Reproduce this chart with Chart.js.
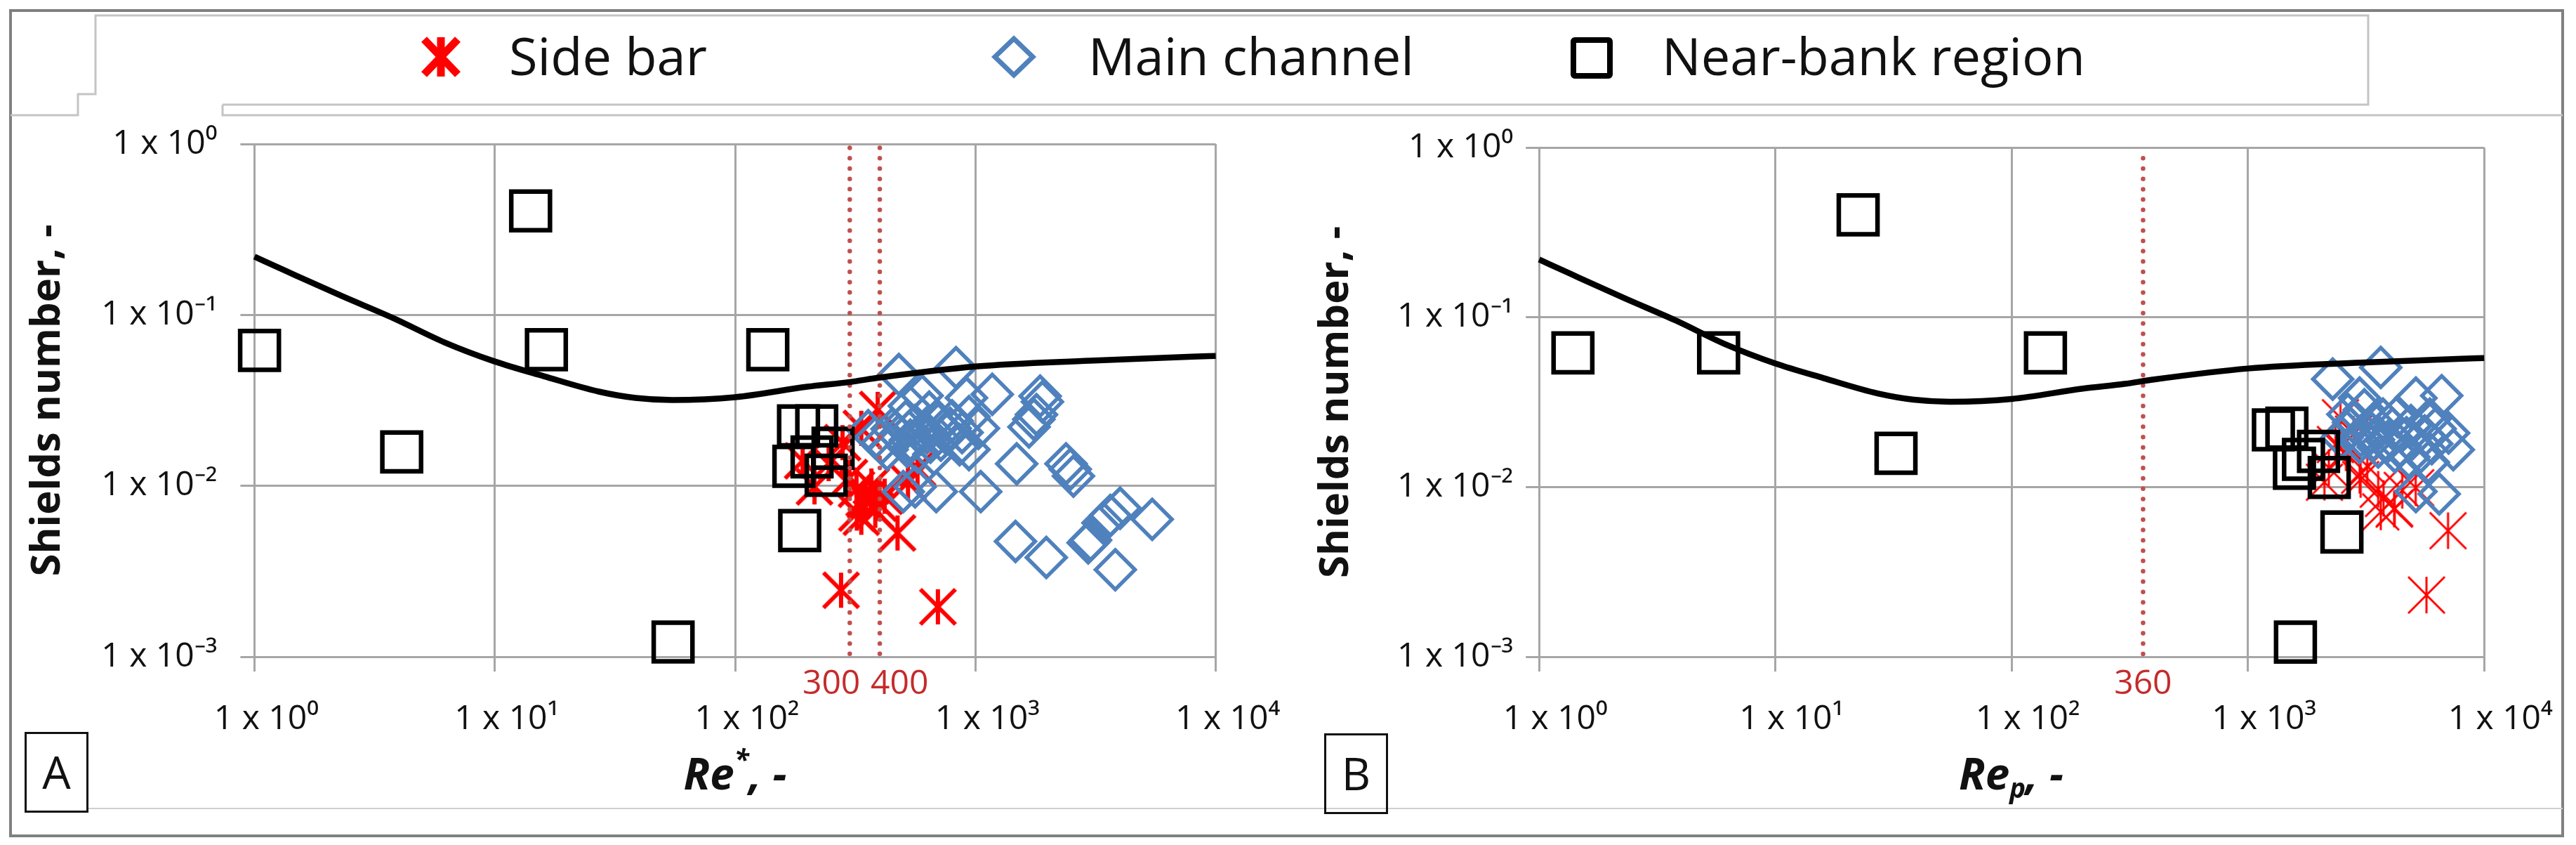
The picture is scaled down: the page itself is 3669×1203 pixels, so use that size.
<!DOCTYPE html>
<html>
<head>
<meta charset="utf-8">
<script src="https://cdn.jsdelivr.net/npm/chart.js@4/dist/chart.umd.min.js"></script>
<style>
  html, body { margin:0; padding:0; background:#fff; }
  #page { position:relative; width:3669px; height:1203px; overflow:hidden; background:#fff; font-family:'Open Sans', sans-serif; color:#111; }
  canvas { position:absolute; top:0; }
  .txt { position:absolute; white-space:nowrap; line-height:1; }
  .box { position:absolute; border:3px solid #111; box-sizing:border-box; }
</style>
</head>
<body>
<div id="page">
  <svg width="3669" height="1203" style="position:absolute;left:0;top:0">
    <rect x="15" y="15" width="3635" height="1175" fill="none" stroke="#808080" stroke-width="4"/>
    <polyline points="317,149 3373,149 3373,22 136,22 136,134 111,134 111,164 15,164" fill="none" stroke="#c4c4c4" stroke-width="3"/>
    <polyline points="317,149 317,164 3650,164" fill="none" stroke="#c4c4c4" stroke-width="3"/>
    <line x1="126" y1="1151" x2="3650" y2="1151" stroke="#cfcfcf" stroke-width="2"/>
    <!-- legend markers -->
    <g stroke="#ff0000" stroke-width="11" stroke-linecap="butt">
      <line x1="604" y1="56" x2="652" y2="106"/>
      <line x1="652" y1="56" x2="604" y2="106"/>
      <line x1="628" y1="53" x2="628" y2="109"/>
    </g>
    <polygon points="1444,55 1471,81 1444,107 1417,81" fill="none" stroke="#4F81BD" stroke-width="7"/>
    <rect x="2241" y="57" width="52" height="51" fill="none" stroke="#000" stroke-width="8" rx="2"/>
  </svg>
  <div class="txt" style="left:725px; top:42px; font-size:74px;">Side bar</div>
  <div class="txt" style="left:1550px; top:42px; font-size:74px;">Main channel</div>
  <div class="txt" style="left:2367px; top:42px; font-size:74px;">Near-bank region</div>

  <canvas id="chartA" width="1835" height="1203" style="left:0px"></canvas>
  <canvas id="chartB" width="1834" height="1203" style="left:1835px"></canvas>

  <div class="txt" style="left:362px; width:1370px; text-align:center; top:1069px; font-size:62px; font-weight:700; font-style:italic;">Re<span style="font-size:0.62em; position:relative; top:-0.75em;">*</span>, -</div>
  <div class="txt" style="left:2191px; width:1347px; text-align:center; top:1069px; font-size:62px; font-weight:700; font-style:italic;">Re<span style="font-size:0.62em; position:relative; top:0.3em;">p</span>, -</div>

  <div class="box" style="left:35px; top:1042px; width:91px; height:115px;"></div>
  <div class="txt" style="left:35px; width:91px; text-align:center; top:1067px; font-size:64px;">A</div>
  <div class="box" style="left:1886px; top:1044px; width:91px; height:115px;"></div>
  <div class="txt" style="left:1886px; width:91px; text-align:center; top:1069px; font-size:64px;">B</div>
</div>
<script>
// ---------------- DATA ----------------
const xTickValues = [1, 10, 100, 1000, 10000];
const xTickLabels = ['1 x 10\u2070', '1 x 10\u00B9', '1 x 10\u00B2', '1 x 10\u00B3', '1 x 10\u2074'];
const yTickValues = [0.001, 0.01, 0.1, 1];
const yTickLabels = ['1 x 10\u207B\u00B3', '1 x 10\u207B\u00B2', '1 x 10\u207B\u00B9', '1 x 10\u2070'];

// Shields threshold curve (same in both panels)
const shieldsRe    = [1, 1.36, 2.31, 3.78, 6.19, 10, 16, 27.1, 38.5, 54.8, 100, 200, 300, 400, 1000, 3000, 8000, 10000];
const shieldsTheta = [0.219, 0.180, 0.129, 0.0958, 0.069, 0.0534, 0.0438, 0.0356, 0.0327, 0.0318, 0.033, 0.038, 0.0405, 0.043, 0.0499, 0.054, 0.057, 0.0575];

// Panel A: Re*
const sideBarReStar   = [392, 276, 474, 698, 350, 320, 383, 299, 335, 419, 335, 280, 245, 214, 524, 574, 191, 344, 396, 321, 369];
const sideBarThetaA   = [0.028, 0.00245, 0.0053, 0.00196, 0.00817, 0.00955, 0.00719, 0.0112, 0.00655, 0.00869, 0.0217, 0.0179, 0.0135, 0.00986, 0.0105, 0.0127, 0.014, 0.00845, 0.0079, 0.00693, 0.00998];

const mainReStar = [480, 830, 1175, 918, 600, 531, 642, 940, 1029, 383, 410, 480, 536, 628, 718, 785, 859, 940, 574, 672, 513, 429, 501, 561, 687, 1052, 358,
                    450, 560, 700, 760, 650, 590, 520, 800, 880,
                    1859, 1900, 1795, 1750, 1671, 1485, 2383, 2480, 2557, 1468, 1972, 2946, 3013, 3397, 3641, 4000, 5440, 3819];
const mainThetaA = [0.0448, 0.0492, 0.0343, 0.0327, 0.0337, 0.0293, 0.0270, 0.0254, 0.0217, 0.0191, 0.0179, 0.0197, 0.0185, 0.0204, 0.0185, 0.0217, 0.0174, 0.0163, 0.0158, 0.0153, 0.0238, 0.0163, 0.00925, 0.00986, 0.00925, 0.00925, 0.0210,
                    0.0215, 0.0225, 0.0230, 0.0200, 0.0180, 0.0200, 0.0170, 0.0240, 0.0205,
                    0.0335, 0.0310, 0.0261, 0.0245, 0.0221, 0.01346, 0.01346, 0.0125, 0.0114, 0.00473, 0.00381, 0.00464, 0.00481, 0.00607, 0.0067, 0.0074, 0.00637, 0.00323];

const nearBankReStar = [14.1, 1.05, 16.4, 136.8, 4.10, 55.2, 183.6, 218.6, 175.6, 209, 255.7, 239.3, 185.7];
const nearBankThetaA = [0.406, 0.062, 0.0626, 0.0626, 0.0158, 0.00122, 0.0224, 0.0224, 0.0130, 0.01476, 0.0166, 0.01153, 0.00547];

const refLinesA = [300, 400];

// Panel B: Re_p
const sideBarRep    = [5700, 7030, 3750, 4160, 3650, 3000, 2465, 2108, 5130, 4500, 2600, 3200, 2346, 2970, 3560, 4180, 2200, 2800];
const sideBarThetaB = [0.00231, 0.00553, 0.00857, 0.00741, 0.00714, 0.01107, 0.0256, 0.01067, 0.0099, 0.00955, 0.0159, 0.0133, 0.0178, 0.01172, 0.0097, 0.0075, 0.013, 0.0205];

const mainRep    = [2285, 3650, 5140, 6610, 2970, 3110, 7070, 7400, 5890, 6450, 5140, 2710, 3330, 4090, 4690, 3730, 2970, 5380, 4190, 3560, 2650,
                    3000, 3400, 3900, 4400, 4900, 5600, 6000, 2500, 2800, 3500, 4300, 6200, 4800, 5800];
const mainThetaB = [0.0432, 0.0506, 0.0334, 0.0345, 0.0334, 0.0285, 0.0208, 0.0166, 0.0251, 0.0091, 0.0094, 0.0221, 0.0208, 0.0221, 0.0195, 0.0251, 0.0183, 0.0161, 0.0161, 0.0172, 0.0268,
                    0.0200, 0.0190, 0.0185, 0.0175, 0.0230, 0.0200, 0.0180, 0.0195, 0.0240, 0.0230, 0.0260, 0.0220, 0.0150, 0.0140];

const nearBankRep    = [22.4, 1.39, 5.75, 139, 32.4, 1589, 1282, 1462, 1574, 1719, 1990, 2210, 2500];
const nearBankThetaB = [0.401, 0.0617, 0.0617, 0.0617, 0.0158, 0.00122, 0.0217, 0.0222, 0.0129, 0.01455, 0.0162, 0.01138, 0.00543];

const refLinesB = [360];

// ---------------- STYLE / BUILD ----------------
const FONT = "'Open Sans', sans-serif";
const GRID = '#A6A6A6';
const TEXT = '#111111';

function pts(xs, ys) { return xs.map((x, i) => ({ x: x, y: ys[i] })); }

function makeStar(size, lw, color) {
  const pad = Math.ceil(lw);
  const c = document.createElement('canvas');
  c.width = c.height = size + 2 * pad;
  const g = c.getContext('2d');
  g.strokeStyle = color; g.lineWidth = lw; g.lineCap = 'butt';
  const a = pad, b = pad + size, m = pad + size / 2;
  g.beginPath();
  g.moveTo(a, a); g.lineTo(b, b);
  g.moveTo(b, a); g.lineTo(a, b);
  g.moveTo(m, a); g.lineTo(m, b);
  g.stroke();
  return c;
}

const refLabelPlugin = {
  id: 'refLabels',
  afterDatasetsDraw(chart, args, opts) {
    const ctx = chart.ctx, xs = chart.scales.x;
    ctx.save();
    ctx.font = '48px ' + FONT;
    ctx.fillStyle = '#C42B2B';
    ctx.textBaseline = 'middle';
    opts.values.forEach((v, i) => {
      const st = opts.styles[i];
      ctx.textAlign = st.align;
      ctx.fillText(String(v), xs.getPixelForValue(v) + st.dx, opts.y);
    });
    ctx.restore();
  }
};

function buildChart(id, p) {
  const datasets = [
    { label: 'Shields curve', data: pts(shieldsRe, shieldsTheta), showLine: true, borderColor: '#000', borderWidth: 8.5,
      pointRadius: 0, cubicInterpolationMode: 'monotone', order: 0, clip: false },
    { label: 'Near-bank region', data: p.near, pointStyle: 'rect', pointRadius: 39, borderWidth: 6.5,
      borderColor: '#000', backgroundColor: 'rgba(0,0,0,0)', order: 1, clip: false },
    { label: 'Main channel', data: p.main, pointStyle: 'rectRot', pointRadius: 28, borderWidth: 5.5,
      borderColor: '#4F81BD', backgroundColor: 'rgba(0,0,0,0)', order: 2, clip: false },
    { label: 'Side bar', data: p.side, pointStyle: p.star, pointRadius: 28, borderColor: '#FF0000',
      backgroundColor: '#FF0000', order: 3, clip: false }
  ];
  p.refLines.forEach((v, i) => {
    datasets.push({ label: 'ref' + i, data: [{ x: v, y: 0.00104 }, { x: v, y: 0.96 }], showLine: true,
      borderColor: '#C0504D', borderWidth: 6.5, borderDash: [0, 14.7], borderCapStyle: 'round',
      pointRadius: 0, order: 0.5, clip: false });
  });
  return new Chart(document.getElementById(id), {
    type: 'scatter',
    data: { datasets },
    plugins: [refLabelPlugin],
    options: {
      responsive: false, animation: false, devicePixelRatio: 1, events: [],
      layout: { padding: { left: 0, top: p.top, right: p.padRight, bottom: 1203 - 935 - 150 } },
      plugins: {
        legend: { display: false }, tooltip: { enabled: false },
        refLabels: { values: p.refLines, styles: p.refStyles, y: 974 }
      },
      scales: {
        x: {
          type: 'logarithmic', position: 'bottom', min: 1, max: 10000,
          afterBuildTicks: s => { s.ticks = xTickValues.map(v => ({ value: v })); },
          ticks: { callback: (v, i) => xTickLabels[i], font: { family: FONT, size: 48 }, color: TEXT,
                   padding: 40, labelOffset: p.xLabelOffset, maxRotation: 0, autoSkip: false },
          grid: { color: GRID, lineWidth: 3, tickLength: 21 },
          border: { color: GRID, width: 3 },
          afterFit: s => { s.height = 150; s.paddingLeft = 0; s.paddingRight = 0; }
        },
        y: {
          type: 'logarithmic', position: 'left', min: 0.001, max: 1,
          afterBuildTicks: s => { s.ticks = yTickValues.map(v => ({ value: v })); },
          ticks: { callback: (v, i) => yTickLabels[i], font: { family: FONT, size: 48 }, color: TEXT,
                   padding: p.yPad, autoSkip: false },
          grid: { color: GRID, lineWidth: 3, tickLength: p.yTick },
          border: { color: GRID, width: 3 },
          title: { display: true, text: 'Shields number, -', color: TEXT,
                   font: { family: FONT, size: 58, weight: 'bold' }, padding: { top: 34, bottom: 0 } },
          afterFit: s => { s.width = p.left; s.paddingTop = 0; s.paddingBottom = 0; }
        }
      }
    }
  });
}

const starA = makeStar(50, 6, '#FF0000');
const starB = makeStar(52, 3, '#FF0000');

buildChart('chartA', {
  near: pts(nearBankReStar, nearBankThetaA), main: pts(mainReStar, mainThetaA), side: pts(sideBarReStar, sideBarThetaA),
  star: starA, refLines: refLinesA,
  refStyles: [{ align: 'right', dx: 15 }, { align: 'left', dx: -13 }],
  top: 205, left: 362.4, padRight: 1835 - 1731.6, yPad: 33, yTick: 20, xLabelOffset: 17
});
buildChart('chartB', {
  near: pts(nearBankRep, nearBankThetaB), main: pts(mainRep, mainThetaB), side: pts(sideBarRep, sideBarThetaB),
  star: starB, refLines: refLinesB,
  refStyles: [{ align: 'center', dx: 0 }],
  top: 210, left: 2192.2 - 1835, padRight: 1834 - (3538.2 - 1835), yPad: 18, yTick: 19, xLabelOffset: 23
});
</script>
</body>
</html>
